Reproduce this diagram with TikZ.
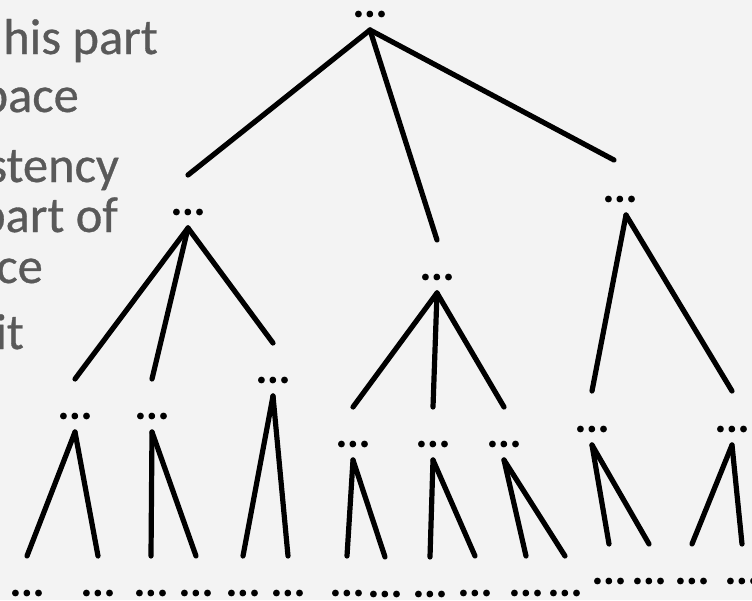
\documentclass[tikz,border=0pt]{standalone}
\usepackage{fontspec}
\setmainfont{Carlito}
\newfontfamily\dotfont[FakeBold=2.2]{Carlito}
\newfontfamily\notefont[FakeBold=0.6]{Carlito}
\definecolor{paper}{HTML}{F3F3F3}
\definecolor{notegray}{HTML}{595959}
\begin{document}
\begin{tikzpicture}[x=1pt,y=-1pt,
  dots/.style={inner sep=0pt, font=\dotfont\fontsize{46}{46}\selectfont},
  branch/.style={line width=5.2pt, line cap=round, line join=round},
  note/.style={anchor=base east, inner sep=0pt, text=notegray,
    font=\notefont\fontsize{50.5}{50.5}\selectfont}]
\useasboundingbox (0,0) rectangle (752,600);
\fill[paper] (0,0) rectangle (752,600);
\clip (0,0) rectangle (752,600);

% bullet text running off the left edge
\node[note] (t1) at (158,54)  {his part};
\node[note] (t2) at (79,112)  {pace};
\node[note] (t3) at (119,182) {stency};
\node[note] (t4) at (118,232) {part of};
\node[note] (t5) at (43,283)  {ce};
\node[note] (t6) at (24,349)  {it};

% tree nodes
\node[dots] (r)  at (370,14)  {…};
\node[dots] (a)  at (188,212) {…};
\node[dots] (b)  at (437,277) {…};
\node[dots] (c)  at (620,199) {…};
\node[dots] (a1) at (75,416)  {…};
\node[dots] (a2) at (152,416) {…};
\node[dots] (a3) at (273,380) {…};
\node[dots] (b1) at (353,444) {…};
\node[dots] (b2) at (433,444) {…};
\node[dots] (b3) at (504,444) {…};
\node[dots] (c1) at (592,429) {…};
\node[dots] (c2) at (732,429) {…};
% leaves
\node[dots] (a1l) at (27,593)  {…};
\node[dots] (a1r) at (98,593)  {…};
\node[dots] (a2l) at (151,593) {…};
\node[dots] (a2r) at (196,593) {…};
\node[dots] (a3l) at (243,593) {…};
\node[dots] (a3r) at (288,593) {…};
\node[dots] (b1l) at (347,593) {…};
\node[dots] (b1r) at (385,594) {…};
\node[dots] (b2l) at (430,594) {…};
\node[dots] (b2r) at (475,593) {…};
\node[dots] (b3l) at (526,593) {…};
\node[dots] (b3r) at (565,593) {…};
\node[dots] (c1l) at (609,581) {…};
\node[dots] (c1r) at (649,581) {…};
\node[dots] (c2l) at (692,581) {…};
\node[dots] (c2r) at (742,581) {…};

% branches
\draw[branch] ([yshift=-16pt]r.center) -- ([yshift=37pt]a.center);
\draw[branch] ([yshift=-16pt]r.center) -- ([yshift=37pt]b.center);
\draw[branch] ([yshift=-16pt]r.center) -- ([xshift=-6pt,yshift=39pt]c.center);
\foreach \p/\q in {a/a1,a/a2,a/a3,b/b1,b/b2,b/b3,
    a1/a1l,a1/a1r,a2/a2l,a2/a2r,a3/a3l,a3/a3r,
    b1/b1l,b1/b1r,b2/b2l,b2/b2r,b3/b3l,b3/b3r,
    c1/c1l,c1/c1r,c2/c2l,c2/c2r}
  \draw[branch] ([yshift=-16pt]\p.center) -- ([yshift=37pt]\q.center);
\foreach \q in {c1,c2}
  \draw[branch] ([xshift=6pt,yshift=-16pt]c.center) -- ([yshift=38pt]\q.center);
\end{tikzpicture}
\end{document}
